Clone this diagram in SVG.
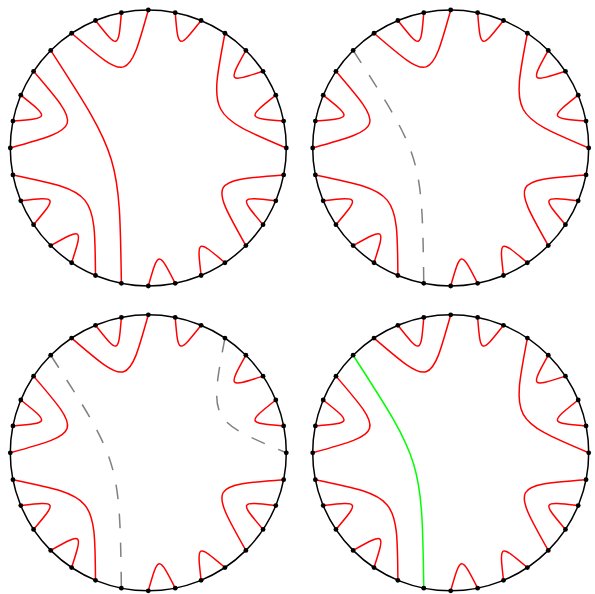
<svg xmlns="http://www.w3.org/2000/svg" xmlns:xlink="http://www.w3.org/1999/xlink" width="595" height="594" viewBox="0 0 595 594">
<style>
.red{fill:none;stroke:#ff0000;stroke-width:1.5}
.dash{fill:none;stroke:#808080;stroke-width:1.5;stroke-dasharray:14.6 14.6}
.green{fill:none;stroke:#00ff00;stroke-width:1.5}
.ring{fill:none;stroke:#000;stroke-width:1.5}
.dot{fill:#000}
</style>
<defs>
<g id="shared">
<path class="red" d="M135.35,-26.92 C98.56,-29.9 98.56,-29.9 127.5,-52.81"/>
<path class="red" d="M114.74,-76.67 C79.62,-65.34 79.62,-65.34 97.58,-97.58"/>
<path class="red" d="M52.81,-127.5 C29.9,-98.56 29.9,-98.56 26.92,-135.35"/>
<path class="red" d="M-26.92,-135.35 C-29.9,-98.56 -29.9,-98.56 -52.81,-127.5"/>
<path class="red" d="M-127.5,-52.81 C-98.56,-29.9 -98.56,-29.9 -135.35,-26.92"/>
<path class="red" d="M-127.5,52.81 C-90.84,48.55 -90.84,48.55 -114.74,76.67"/>
<path class="red" d="M-97.58,97.58 C-65.34,79.62 -65.34,79.62 -76.67,114.74"/>
<path class="red" d="M0,138 C10.1,102.5 10.1,102.5 26.92,135.35"/>
<path class="red" d="M52.81,127.5 C48.55,90.84 48.55,90.84 76.67,114.74"/>
<path class="red" d="M114.74,76.67 C90.84,48.55 90.84,48.55 127.5,52.81"/>
<path class="red" d="M0,-138 C-20.03,-66.03 -20.03,-66.03 -76.67,-114.74"/>
<path class="red" d="M-114.74,-76.67 C-66.03,-20.03 -66.03,-20.03 -138,0"/>
<path class="red" d="M97.58,97.58 C60.85,32.53 60.85,32.53 135.35,26.92"/>
<path class="red" d="M-135.35,26.92 C-53.34,43.77 -53.34,43.77 -52.81,127.5"/>
</g>
<path id="c0-5" d="M76.67,-114.74 C60.85,-32.53 60.85,-32.53 138,0"/>
<path id="c12-23" d="M-97.58,-97.58 C-28.71,8.71 -28.71,8.71 -26.92,135.35"/>
<g id="boundary">
<circle class="ring" cx="0" cy="0" r="138"/>
<circle class="dot" cx="138" cy="0" r="2.4"/>
<circle class="dot" cx="135.35" cy="-26.92" r="2.4"/>
<circle class="dot" cx="127.5" cy="-52.81" r="2.4"/>
<circle class="dot" cx="114.74" cy="-76.67" r="2.4"/>
<circle class="dot" cx="97.58" cy="-97.58" r="2.4"/>
<circle class="dot" cx="76.67" cy="-114.74" r="2.4"/>
<circle class="dot" cx="52.81" cy="-127.5" r="2.4"/>
<circle class="dot" cx="26.92" cy="-135.35" r="2.4"/>
<circle class="dot" cx="0" cy="-138" r="2.4"/>
<circle class="dot" cx="-26.92" cy="-135.35" r="2.4"/>
<circle class="dot" cx="-52.81" cy="-127.5" r="2.4"/>
<circle class="dot" cx="-76.67" cy="-114.74" r="2.4"/>
<circle class="dot" cx="-97.58" cy="-97.58" r="2.4"/>
<circle class="dot" cx="-114.74" cy="-76.67" r="2.4"/>
<circle class="dot" cx="-127.5" cy="-52.81" r="2.4"/>
<circle class="dot" cx="-135.35" cy="-26.92" r="2.4"/>
<circle class="dot" cx="-138" cy="0" r="2.4"/>
<circle class="dot" cx="-135.35" cy="26.92" r="2.4"/>
<circle class="dot" cx="-127.5" cy="52.81" r="2.4"/>
<circle class="dot" cx="-114.74" cy="76.67" r="2.4"/>
<circle class="dot" cx="-97.58" cy="97.58" r="2.4"/>
<circle class="dot" cx="-76.67" cy="114.74" r="2.4"/>
<circle class="dot" cx="-52.81" cy="127.5" r="2.4"/>
<circle class="dot" cx="-26.92" cy="135.35" r="2.4"/>
<circle class="dot" cx="0" cy="138" r="2.4"/>
<circle class="dot" cx="26.92" cy="135.35" r="2.4"/>
<circle class="dot" cx="52.81" cy="127.5" r="2.4"/>
<circle class="dot" cx="76.67" cy="114.74" r="2.4"/>
<circle class="dot" cx="97.58" cy="97.58" r="2.4"/>
<circle class="dot" cx="114.74" cy="76.67" r="2.4"/>
<circle class="dot" cx="127.5" cy="52.81" r="2.4"/>
<circle class="dot" cx="135.35" cy="26.92" r="2.4"/>
</g>
</defs>
<rect width="595" height="594" fill="#fff"/>
<g id="connectors">
<g transform="translate(148.3,148)">
<use href="#shared"/>
<use href="#c0-5" class="red"/>
<use href="#c12-23" class="red"/>
</g>
<g transform="translate(450.7,148)">
<use href="#shared"/>
<use href="#c0-5" class="red"/>
<use href="#c12-23" class="dash"/>
</g>
<g transform="translate(148.3,452.8)">
<use href="#shared"/>
<use href="#c0-5" class="dash"/>
<use href="#c12-23" class="dash"/>
</g>
<g transform="translate(450.7,452.8)">
<use href="#shared"/>
<use href="#c0-5" class="red"/>
<use href="#c12-23" class="green"/>
</g>
</g>
<g id="disk1" transform="translate(148.3,148)"><use href="#boundary"/></g>
<g id="disk2" transform="translate(450.7,148)"><use href="#boundary"/></g>
<g id="disk3" transform="translate(148.3,452.8)"><use href="#boundary"/></g>
<g id="disk4" transform="translate(450.7,452.8)"><use href="#boundary"/></g>
</svg>
